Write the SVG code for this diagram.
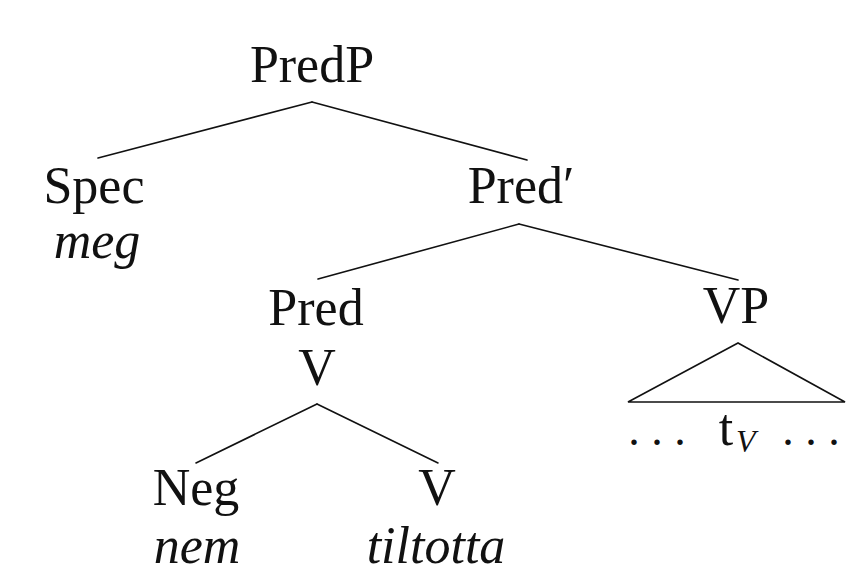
<svg xmlns="http://www.w3.org/2000/svg" width="847" height="575" viewBox="0 0 847 575">
<rect width="847" height="575" fill="#fff"/>
<g id="edges" stroke="#111" stroke-width="1.6" fill="none" stroke-linecap="round">
<line x1="312" y1="102" x2="98" y2="158"/>
<line x1="312" y1="102" x2="527" y2="160"/>
<line x1="519" y1="224" x2="318" y2="279"/>
<line x1="519" y1="224" x2="738" y2="280"/>
<line x1="317" y1="404" x2="196" y2="463"/>
<line x1="317" y1="404" x2="438" y2="463"/>
<path d="M738 343 L628 402 L845 402 Z"/>
</g>
<g font-family="Liberation Serif" font-size="52" fill="#111" text-anchor="middle">
<g id="PredP"><text x="312" y="82">PredP</text></g>
<g id="Spec"><text x="94" y="203">Spec</text><text font-style="italic" x="97" y="258">meg</text></g>
<g id="PredBar"><text x="521" y="203">Pred′</text></g>
<g id="Pred"><text x="316" y="325">Pred</text><text x="317" y="385">V</text></g>
<g id="VP"><text x="736" y="323">VP</text>
<text font-size="46" x="657" y="445">. . .</text><text x="726" y="445">t</text><text font-size="32" font-style="italic" text-anchor="start" x="736" y="452">V</text><text font-size="46" x="811" y="445">. . .</text></g>
<g id="Neg"><text x="196" y="505">Neg</text><text font-style="italic" x="197" y="563">nem</text></g>
<g id="V"><text x="437" y="505">V</text><text font-style="italic" x="436" y="563">tiltotta</text></g>
</g>
</svg>
